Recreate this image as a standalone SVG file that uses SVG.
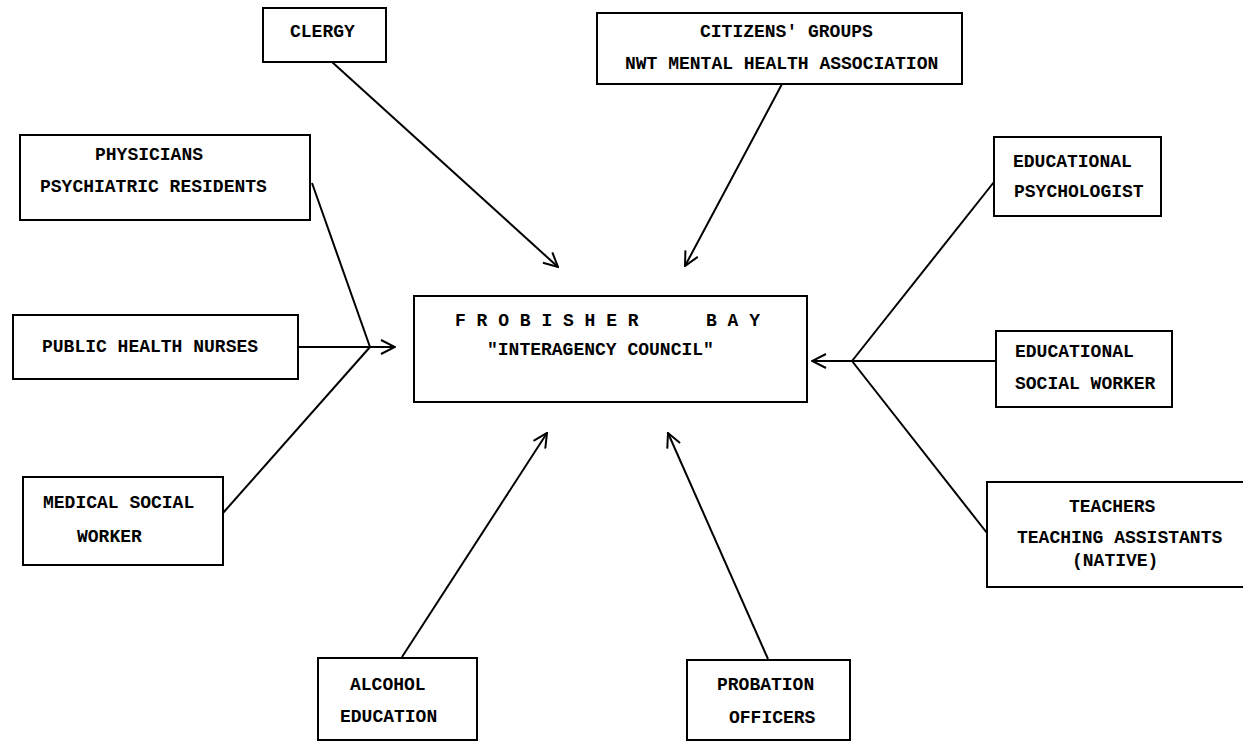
<svg xmlns="http://www.w3.org/2000/svg" width="1243" height="745" viewBox="0 0 1243 745">
<style>
.box{fill:#fff;stroke:#000;stroke-width:2}
.t{font-family:"Liberation Mono","Courier New",monospace;font-weight:bold;font-size:18px;letter-spacing:0px;fill:#000}
.c{fill:none;stroke:#000;stroke-width:2}
</style>
<defs>
<marker id="ah" markerUnits="userSpaceOnUse" viewBox="0 0 16 16" markerWidth="16" markerHeight="16" refX="15" refY="8" orient="auto">
<path d="M1,1 L15,8 L1,15" fill="none" stroke="#000" stroke-width="2"/>
</marker>
</defs>
<rect width="1243" height="745" fill="#fff"/>
<g id="connectors">
<line class="c" x1="332" y1="62" x2="558" y2="267" marker-end="url(#ah)"/>
<line class="c" x1="782" y1="84" x2="685" y2="266" marker-end="url(#ah)"/>
<line class="c" x1="312" y1="183" x2="370" y2="347"/>
<line class="c" x1="223" y1="513" x2="370" y2="347"/>
<line class="c" x1="298" y1="347" x2="395" y2="347" marker-end="url(#ah)"/>
<line class="c" x1="994" y1="182" x2="852" y2="361"/>
<line class="c" x1="987" y1="533" x2="852" y2="361"/>
<line class="c" x1="996" y1="361" x2="812" y2="361" marker-end="url(#ah)"/>
<line class="c" x1="402" y1="657" x2="547" y2="433" marker-end="url(#ah)"/>
<line class="c" x1="768" y1="659" x2="668" y2="433" marker-end="url(#ah)"/>
</g>
<g id="clergy">
<rect class="box" x="263" y="8" width="123" height="54"/>
<text class="t" x="290" y="37">CLERGY</text>
</g>
<g id="citizens">
<rect class="box" x="597" y="13" width="365" height="71"/>
<text class="t" x="700" y="37">CITIZENS' GROUPS</text>
<text class="t" x="625" y="69">NWT MENTAL HEALTH ASSOCIATION</text>
</g>
<g id="physicians">
<rect class="box" x="20" y="135" width="290" height="85"/>
<text class="t" x="95" y="160">PHYSICIANS</text>
<text class="t" x="40" y="192">PSYCHIATRIC RESIDENTS</text>
</g>
<g id="nurses">
<rect class="box" x="13" y="315" width="285" height="64"/>
<text class="t" x="42" y="352">PUBLIC HEALTH NURSES</text>
</g>
<g id="medical">
<rect class="box" x="23" y="477" width="200" height="88"/>
<text class="t" x="43" y="508">MEDICAL SOCIAL</text>
<text class="t" x="77" y="542">WORKER</text>
</g>
<g id="council">
<rect class="box" x="414" y="296" width="393" height="106"/>
<text class="t" x="455" y="326">F R O B I S H E R</text>
<text class="t" x="706" y="326">B A Y</text>
<text class="t" x="487" y="355">"INTERAGENCY COUNCIL"</text>
</g>
<g id="edpsych">
<rect class="box" x="994" y="137" width="167" height="79"/>
<text class="t" x="1013" y="167">EDUCATIONAL</text>
<text class="t" x="1014" y="197">PSYCHOLOGIST</text>
</g>
<g id="edsocial">
<rect class="box" x="996" y="331" width="176" height="76"/>
<text class="t" x="1015" y="357">EDUCATIONAL</text>
<text class="t" x="1015" y="389">SOCIAL WORKER</text>
</g>
<g id="teachers">
<rect class="box" x="987" y="482" width="270" height="105"/>
<text class="t" x="1069" y="512">TEACHERS</text>
<text class="t" x="1017" y="543">TEACHING ASSISTANTS</text>
<text class="t" x="1072" y="566">(NATIVE)</text>
</g>
<g id="alcohol">
<rect class="box" x="318" y="658" width="159" height="82"/>
<text class="t" x="350" y="690">ALCOHOL</text>
<text class="t" x="340" y="722">EDUCATION</text>
</g>
<g id="probation">
<rect class="box" x="687" y="660" width="163" height="80"/>
<text class="t" x="717" y="690">PROBATION</text>
<text class="t" x="729" y="723">OFFICERS</text>
</g>
</svg>
